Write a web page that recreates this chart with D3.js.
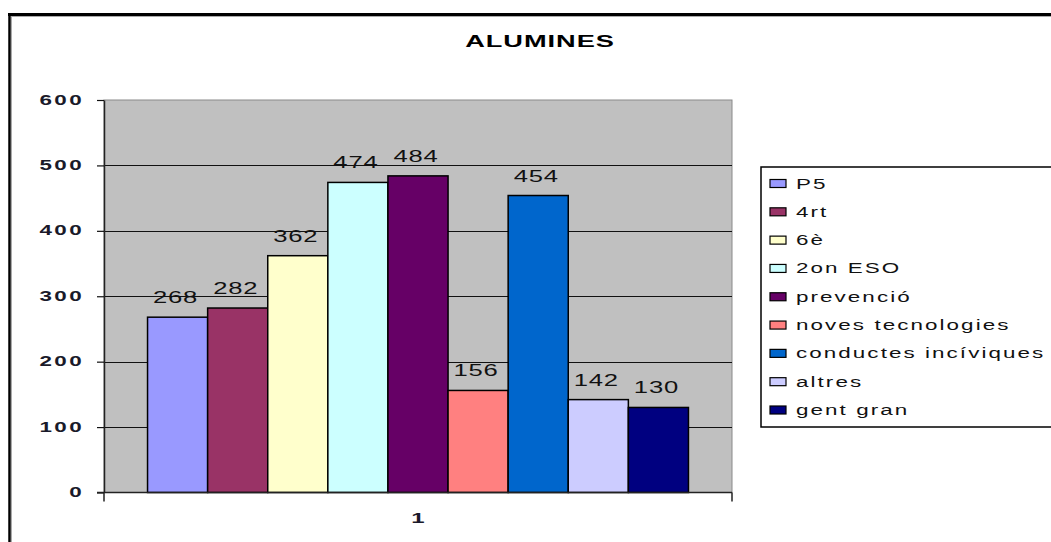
<!DOCTYPE html>
<html>
<head>
<meta charset="utf-8">
<script src="https://cdn.jsdelivr.net/npm/d3@7"></script>
<style>
  html, body { margin: 0; padding: 0; background: #fff; }
  svg { display: block; font-family: "Liberation Sans", Arial, sans-serif; }
</style>
</head>
<body>
<svg id="chart" width="1051" height="542"></svg>
<script>
// ---- data ----
const title = "ALUMINES";
const categories = ["1"];
const series = ["P5", "4rt", "6è", "2on ESO", "prevenció", "noves tecnologies", "conductes incíviques", "altres", "gent gran"];
const values = [268, 282, 362, 474, 484, 156, 454, 142, 130];
const colors = ["#9999FF", "#993366", "#FFFFCC", "#CCFFFF", "#660066", "#FF8080", "#0066CC", "#CCCCFF", "#000080"];
const yTicks = [0, 100, 200, 300, 400, 500, 600];

// ---- layout ----
const SX = 1.6; // horizontal text stretch seen in the reference
const plot = { left: 104, right: 732, top: 100, bottom: 492.5 };
const svg = d3.select("#chart");

// outer frame
svg.append("line").attr("x1", 8).attr("x2", 1051).attr("y1", 14.5).attr("y2", 14.5)
  .attr("stroke", "#000").attr("stroke-width", 3);
svg.append("line").attr("x1", 9.5).attr("x2", 9.5).attr("y1", 13).attr("y2", 542)
  .attr("stroke", "#000").attr("stroke-width", 2.5);
svg.append("line").attr("x1", 11.5).attr("x2", 1051).attr("y1", 16.5).attr("y2", 16.5)
  .attr("stroke", "#aaa").attr("stroke-width", 1);
svg.append("line").attr("x1", 11.5).attr("x2", 11.5).attr("y1", 16).attr("y2", 542)
  .attr("stroke", "#aaa").attr("stroke-width", 1);

function stretchedText(g, x, y, txt, opts) {
  return g.append("text")
    .attr("transform", `translate(${x},${y}) scale(${SX},1)`)
    .attr("text-anchor", opts.anchor || "middle")
    .attr("font-size", opts.size)
    .attr("font-weight", opts.weight || "normal")
    .attr("letter-spacing", opts.ls || 0)
    .attr("fill", opts.fill || "#000")
    .text(txt);
}

// title
stretchedText(svg, 540, 47, title, { size: 17, weight: "bold", ls: 0.6 });

// scales
const y = d3.scaleLinear().domain([0, 600]).range([plot.bottom, plot.top]);
const x0 = d3.scaleBand().domain(categories).range([plot.left, plot.right]).paddingOuter(0.0805).paddingInner(0);
const x1 = d3.scaleBand().domain(series).range([0, x0.bandwidth()]).padding(0);
const color = d3.scaleOrdinal().domain(series).range(colors);

// plot background
svg.append("rect").attr("x", plot.left).attr("y", plot.top)
  .attr("width", plot.right - plot.left).attr("height", plot.bottom - plot.top)
  .attr("fill", "#C0C0C0").attr("stroke", "#8a8a8a").attr("stroke-width", 1);

// gridlines
svg.append("g").selectAll("line").data(yTicks.filter(d => d > 0 && d < 600)).join("line")
  .attr("x1", plot.left).attr("x2", plot.right)
  .attr("y1", d => Math.round(y(d)) + 0.5).attr("y2", d => Math.round(y(d)) + 0.5)
  .attr("stroke", "#111").attr("stroke-width", 1.2);

// bars
const cat = svg.append("g").selectAll("g").data(categories).join("g")
  .attr("transform", d => `translate(${x0(d)},0)`);
cat.selectAll("rect").data(series.map((s, i) => ({ s, v: values[i] }))).join("rect")
  .attr("x", d => x1(d.s)).attr("width", x1.bandwidth())
  .attr("y", d => y(d.v)).attr("height", d => y(0) - y(d.v))
  .attr("fill", d => color(d.s)).attr("stroke", "#000").attr("stroke-width", 1.5);

// y axis
const yAxis = svg.append("g").attr("transform", `translate(${plot.left},0)`)
  .call(d3.axisLeft(y).tickValues(yTicks).tickSize(7).tickSizeOuter(0).tickFormat(d3.format("d")));
yAxis.select(".domain").attr("stroke", "#222").attr("stroke-width", 1.5);
yAxis.selectAll(".tick line").attr("stroke", "#111").attr("stroke-width", 1.2);
yAxis.selectAll(".tick text")
  .attr("x", null).attr("dy", null)
  .attr("transform", `translate(-20,4) scale(${SX},1)`)
  .attr("text-anchor", "end")
  .attr("font-size", 14).attr("font-weight", "bold").attr("letter-spacing", 1.5)
  .attr("font-family", "'Liberation Sans', Arial, sans-serif")
  .attr("fill", "#1a1a2a");

// x axis
const xAxis = svg.append("g").attr("transform", `translate(0,${plot.bottom})`)
  .call(d3.axisBottom(x0).tickSize(0).tickPadding(0));
xAxis.select(".domain").attr("stroke", "#222").attr("stroke-width", 1.5)
  .attr("d", `M${plot.left - 7},0H${plot.right}`);
xAxis.selectAll(".tick text")
  .attr("y", null).attr("dy", null)
  .attr("transform", `translate(0,30) scale(${SX},1)`)
  .attr("font-size", 15).attr("font-weight", "bold")
  .attr("font-family", "'Liberation Sans', Arial, sans-serif")
  .attr("fill", "#1a1a2a");
xAxis.selectAll("line.edge").data(x0.range()).join("line").attr("class", "edge")
  .attr("x1", d => d).attr("x2", d => d).attr("y1", 0).attr("y2", 9)
  .attr("stroke", "#222").attr("stroke-width", 1.5);

// data labels
cat.selectAll("text.val").data(series.map((s, i) => ({ s, v: values[i] }))).join("text")
  .attr("class", "val")
  .attr("transform", d => `translate(${x1(d.s) + x1.bandwidth() / 2 - 2},${y(d.v) - 14}) scale(${SX},1)`)
  .attr("text-anchor", "middle").attr("font-size", 16).attr("letter-spacing", 0.5)
  .attr("fill", "#111")
  .text(d => d.v);

// legend
const legend = svg.append("g");
legend.append("rect").attr("x", 761).attr("y", 167).attr("width", 320).attr("height", 260)
  .attr("fill", "#fff").attr("stroke", "#000").attr("stroke-width", 1.5);
const ly = d3.scalePoint().domain(series).range([183.5, 410]);
const items = legend.selectAll("g.item").data(series).join("g").attr("class", "item");
items.append("rect").attr("x", 770).attr("y", d => ly(d) - 4).attr("width", 16).attr("height", 8)
  .attr("fill", d => color(d)).attr("stroke", "#000").attr("stroke-width", 1.2);
items.each(function (d) {
  stretchedText(d3.select(this), 796, ly(d) + 5, d, { size: 14, anchor: "start", ls: 1.3, fill: "#111" });
});
</script>
</body>
</html>
